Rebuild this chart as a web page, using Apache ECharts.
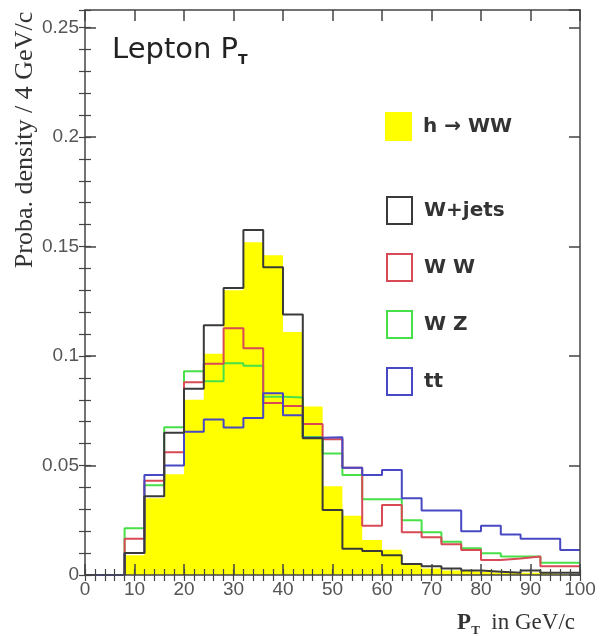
<!DOCTYPE html>
<html>
<head>
<meta charset="utf-8">
<script src="https://cdn.jsdelivr.net/npm/echarts@6/dist/echarts.min.js"></script>
<style>
  html, body { margin: 0; padding: 0; background: #fff; }
  #chart { width: 600px; height: 636px; }
</style>
</head>
<body>
<div id="chart"></div>
<script>
// Lepton transverse momentum, 4 GeV/c bins from 0 to 100 GeV/c
const binWidth = 4;
const binStarts = [0, 4, 8, 12, 16, 20, 24, 28, 32, 36, 40, 44, 48, 52, 56, 60, 64, 68, 72, 76, 80, 84, 88, 92, 96];

// probability density per bin for each process (null = not filled)
const higgsWW = [null, null, 0.009, 0.035, 0.046, 0.080, 0.101, 0.130, 0.152, 0.146, 0.111, 0.077, 0.0405, 0.027, 0.016, 0.0115, 0.0046, 0.003, 0.002, 0.0015, 0.001, 0.001, 0.001, 0.0005, 0.0005];
const wJets   = [null, null, 0.010, 0.036, 0.065, 0.085, 0.114, 0.131, 0.1575, 0.1405, 0.119, 0.0625, 0.0297, 0.012, 0.011, 0.009, 0.005, 0.004, 0.003, 0.002, 0.0015, 0.001, 0.002, 0.001, 0.001];
const wwBkg   = [null, null, 0.0165, 0.043, 0.056, 0.088, 0.0965, 0.1127, 0.1035, 0.0785, 0.0772, 0.069, 0.062, 0.049, 0.0225, 0.032, 0.0195, 0.0172, 0.014, 0.0114, 0.0068, 0.0075, 0.0084, 0.004, 0.004];
const wzBkg   = [null, null, 0.0213, 0.041, 0.0675, 0.093, 0.0885, 0.0967, 0.0956, 0.0814, 0.081, 0.063, 0.0555, 0.0457, 0.0346, 0.0346, 0.025, 0.0195, 0.0152, 0.0122, 0.0099, 0.0084, 0.0084, 0.0056, 0.0056];
const ttBkg   = [0, 0, 0.010, 0.0457, 0.050, 0.0654, 0.071, 0.0673, 0.0717, 0.083, 0.073, 0.0627, 0.0629, 0.049, 0.0457, 0.048, 0.035, 0.0295, 0.0295, 0.020, 0.0225, 0.0185, 0.0166, 0.0166, 0.0114];

const seriesNames = ['h \u2192 WW', 'W+jets', 'W W', 'W Z', 'tt'];
const seriesColors = ['#ffff00', '#3a3a3a', '#d84a55', '#48e048', '#4848c4'];

// turn per-bin contents into step-line points (left edge of each bin)
function stepData(values) {
  const pts = [];
  let started = false;
  values.forEach((v, i) => {
    if (v == null) return;
    if (!started) { pts.push([binStarts[i], 0]); started = true; }
    pts.push([binStarts[i], v]);
  });
  const last = values.length - 1;
  pts.push([binStarts[last] + binWidth, values[last]]);
  return pts;
}

const axisColor = '#444';
const labelFont = 'Liberation Sans';
const yMax = 0.258;

function histLine(name, values, color, z) {
  return {
    name, type: 'line', step: 'end', data: stepData(values),
    xAxisIndex: 0, yAxisIndex: 0,
    symbol: 'none', showSymbol: false, z,
    lineStyle: { color, width: 2 },
    itemStyle: { color },
    emphasis: { disabled: true }
  };
}

const majorTick = { inside: true, length: 11, lineStyle: { color: axisColor, width: 1.5 } };
const minorTick = { inside: true, length: 6, lineStyle: { color: axisColor, width: 1.2 } };
const frameLine = { show: true, onZero: false, lineStyle: { color: axisColor, width: 1.5 } };

// grid 0 holds the data and the major ticks, grid 1 (same box) only the fine ticks
function xAx(gridIndex, position, interval, withLine, withLabels, tick) {
  return {
    type: 'value', gridIndex, position, min: 0, max: 100, interval, z: 10,
    axisLine: withLine ? frameLine : { show: false },
    axisTick: tick,
    axisLabel: withLabels
      ? { fontFamily: labelFont, fontSize: 19, color: '#555', margin: 5 }
      : { show: false },
    splitLine: { show: false }
  };
}
function yAx(gridIndex, position, interval, withLine, withLabels, tick) {
  return {
    type: 'value', gridIndex, position, min: 0, max: yMax, interval, z: 10,
    axisLine: withLine ? frameLine : { show: false },
    axisTick: tick,
    axisLabel: withLabels
      ? { fontFamily: labelFont, fontSize: 19, color: '#555', margin: 6, showMaxLabel: false }
      : { show: false },
    splitLine: { show: false }
  };
}

const chart = echarts.init(document.getElementById('chart'), null, { renderer: 'canvas' });

chart.setOption({
  backgroundColor: '#fff',
  animation: false,
  grid: [
    { left: 85, right: 20, top: 10, bottom: 61, show: false },
    { left: 85, right: 20, top: 10, bottom: 61, show: false }
  ],
  title: [
    {
      text: '{a|Lepton P}{b|T}',
      left: 107, top: 28,
      textStyle: {
        rich: {
          a: { fontFamily: 'DejaVu Sans', fontWeight: 'normal', fontSize: 29, color: '#222', lineHeight: 34 },
          b: { fontFamily: 'DejaVu Sans', fontWeight: 'bold', fontSize: 14, color: '#222', verticalAlign: 'bottom', lineHeight: 14 }
        }
      }
    },
    {
      text: '{p|P}{t|T}{r|  in GeV/c}',
      right: 20, top: 604,
      textStyle: {
        rich: {
          p: { fontFamily: 'Liberation Serif', fontSize: 23, fontWeight: 'bold', color: '#333', lineHeight: 28 },
          t: { fontFamily: 'Liberation Serif', fontSize: 13, fontWeight: 'bold', color: '#333', verticalAlign: 'bottom', lineHeight: 13 },
          r: { fontFamily: 'Liberation Serif', fontSize: 23, fontWeight: 'normal', color: '#333', lineHeight: 28 }
        }
      }
    }
  ],
  graphic: [
    {
      type: 'text', x: 25, y: 140, rotation: Math.PI / 2,
      style: {
        text: 'Proba. density / 4 GeV/c',
        font: '26px "Liberation Serif"', fill: '#333',
        align: 'center', verticalAlign: 'middle'
      }
    }
  ],
  legend: [
    {
      selectedMode: false, orient: 'vertical', left: 380, top: 107,
      itemWidth: 27, itemHeight: 29,
      textStyle: { fontFamily: 'DejaVu Sans', fontWeight: 'bold', fontSize: 20, color: '#333', padding: [0, 0, 0, 6] },
      data: [{ name: seriesNames[0], icon: 'rect', itemStyle: { color: seriesColors[0], borderWidth: 0 } }]
    },
    {
      selectedMode: false, orient: 'vertical', left: 381, top: 191,
      itemWidth: 25, itemHeight: 27, itemGap: 28,
      textStyle: { fontFamily: 'DejaVu Sans', fontWeight: 'bold', fontSize: 20, color: '#333', padding: [0, 0, 0, 7] },
      data: [1, 2, 3, 4].map(i => ({
        name: seriesNames[i], icon: 'rect',
        itemStyle: { color: '#ffffff', borderColor: seriesColors[i], borderWidth: 2 }
      }))
    }
  ],
  xAxis: [
    xAx(0, 'bottom', 10, true, true, majorTick),
    xAx(0, 'top', 10, true, false, majorTick),
    xAx(1, 'bottom', 2, false, false, minorTick),
    xAx(1, 'top', 2, false, false, minorTick)
  ],
  yAxis: [
    yAx(0, 'left', 0.05, true, true, majorTick),
    yAx(0, 'right', 0.05, true, false, majorTick),
    yAx(1, 'left', 0.01, false, false, minorTick),
    yAx(1, 'right', 0.01, false, false, minorTick)
  ],
  series: [
    {
      name: seriesNames[0], type: 'line', step: 'end', data: stepData(higgsWW),
      xAxisIndex: 0, yAxisIndex: 0,
      symbol: 'none', showSymbol: false, z: 1,
      lineStyle: { width: 0, opacity: 0 },
      itemStyle: { color: seriesColors[0] },
      areaStyle: { color: seriesColors[0], opacity: 1 },
      emphasis: { disabled: true }
    },
    histLine(seriesNames[3], wzBkg, seriesColors[3], 2),
    histLine(seriesNames[2], wwBkg, seriesColors[2], 3),
    histLine(seriesNames[4], ttBkg, seriesColors[4], 4),
    histLine(seriesNames[1], wJets, seriesColors[1], 5)
  ]
});
</script>
</body>
</html>
